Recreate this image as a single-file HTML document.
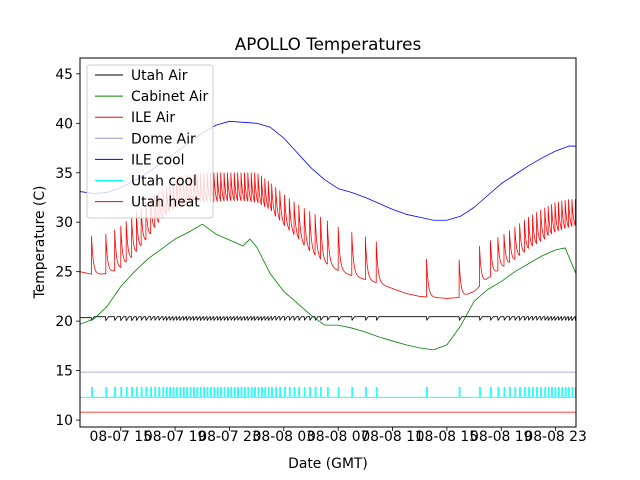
<!DOCTYPE html>
<html><head><meta charset="utf-8"><style>
html,body{margin:0;padding:0;background:#fff;}
svg{display:block;font-family:"DejaVu Sans","Liberation Sans",sans-serif;}
</style></head><body>
<svg id="chart" width="640" height="480" viewBox="0 0 640 480">
<rect width="640" height="480" fill="#fff"/>
<text x="328" y="50" font-size="16.8" text-anchor="middle" fill="#000">APOLLO Temperatures</text>
<g id="plot"></g>
<rect x="80" y="58" width="496" height="369" fill="none" stroke="#000" stroke-width="1"/>
<g id="xt"></g>
<g id="yt"></g>
<text x="328" y="468" font-size="13.9" text-anchor="middle">Date (GMT)</text>
<text x="0" y="0" font-size="13.9" text-anchor="middle" transform="translate(44,242) rotate(-90)">Temperature (C)</text>
<g id="legend"></g>
</svg>
<script>
const xTickHours=[3,7,11,15,19,23,27,31,35];
const xTickLabels=["08-07 15","08-07 19","08-07 23","08-08 03","08-08 07","08-08 11","08-08 15","08-08 19","08-08 23"];
const yTicks=[10,15,20,25,30,35,40,45];
const hourT=[0,1,2,3,4,5,6,7,8,9,10,11,12,13,14,15,16,17,18,19,20,21,22,23,24,25,26,27,28,29,30,31,32,33,34,35,36,36.5];
const ileCool=[33.1,32.9,33.0,33.5,34.2,35.0,36.0,37.0,38.0,39.0,39.8,40.2,40.1,40.0,39.6,38.5,37.0,35.5,34.3,33.4,33.0,32.5,31.9,31.3,30.8,30.5,30.2,30.2,30.6,31.5,32.7,33.9,34.8,35.7,36.5,37.2,37.7,37.7];
const cabT=[0,1,2,3,4,5,6,7,8,9,10,11,12,12.5,13,14,15,16,17,18,19,20,21,22,23,24,25,26,27,28,29,30,31,32,33,34,35,35.7,36.5];
const cabinetAir=[19.7,20.2,21.5,23.5,25,26.3,27.3,28.3,29,29.8,28.8,28.2,27.6,28.3,27.5,24.8,23.0,21.8,20.6,19.6,19.6,19.3,18.9,18.4,18.0,17.6,17.3,17.1,17.6,19.5,22.0,23.2,24.0,25.0,25.8,26.6,27.2,27.4,24.8];
const ileBase=[25.0,24.7,24.8,25.3,26.5,28.2,30,31,31.5,31.6,31.6,31.7,31.7,31.5,30.8,29.5,28.2,26.8,25.8,25.1,24.6,24.2,23.8,23.3,22.8,22.5,22.4,22.3,22.4,23.0,24.3,25.3,26.1,27.0,27.8,28.5,29.0,29.2];
const ilePeak=[28.6,28.6,28.8,29.6,30.8,32.2,33.3,34.2,34.8,35,35,35,35,35,34,32.8,31.8,31.0,30.3,29.5,29.0,28.5,27.9,27.5,27.0,26.3,26.2,26.2,26.2,27.3,28.0,28.6,29.5,30.5,31.3,32.0,32.3,32.3];
const cycleEvents=[0.85,1.9,2.55,3.0,3.4,3.8,4.15,4.5,4.85,5.2,5.5,5.8,6.1,6.35,6.6,6.85,7.1,7.35,7.6,7.85,8.1,8.35,8.6,8.85,9.1,9.35,9.6,9.85,10.1,10.35,10.6,10.85,11.1,11.35,11.6,11.85,12.1,12.35,12.6,12.85,13.1,13.35,13.6,13.85,14.1,14.4,14.7,15.05,15.4,15.75,16.1,16.5,16.9,17.3,17.7,18.2,19.0,20.0,21.0,21.8,25.5,27.9,29.4,30.2,30.75,31.2,31.6,32.0,32.35,32.7,33.0,33.3,33.6,33.9,34.2,34.45,34.7,34.95,35.2,35.45,35.7,35.95,36.2,36.45];
const utahAirLevel=[20.45];
const utahAirDip=[0.4];
const domeAir=[14.85];
const utahCoolLevels=[12.3,13.3];
const utahHeat=[10.8];

const X0=80,X1=576,Y0=58,Y1=427,XMIN=0,XMAX=36.5,YMIN=9.3,YMAX=46.6;
function xs(h){return X0+(h-XMIN)/(XMAX-XMIN)*(X1-X0);}
function ys(v){return Y1-(v-YMIN)/(YMAX-YMIN)*(Y1-Y0);}
function interp(T,V,t){if(t<=T[0])return V[0];for(let i=1;i<T.length;i++){if(t<=T[i]){const f=(t-T[i-1])/(T[i]-T[i-1]);return V[i-1]+f*(V[i]-V[i-1]);}}return V[V.length-1];}
const NS='http://www.w3.org/2000/svg';
const plot=document.getElementById('plot');
function mk(tag,attrs,parent){const e=document.createElementNS(NS,tag);for(const k in attrs)e.setAttribute(k,attrs[k]);parent.appendChild(e);return e;}
function pathFrom(pts){return pts.map((p,i)=>(i?'L':'M')+p[0].toFixed(2)+' '+p[1].toFixed(2)).join('');}
function addLine(pts,color,name,w){const p=mk('path',{d:pathFrom(pts),fill:'none',stroke:color,'stroke-width':w||0.8,'stroke-linejoin':'round'},plot);


return p;}
const defs=mk('defs',{},plot);const cp=mk('clipPath',{id:'clip'},defs);mk('rect',{x:X0,y:Y0,width:X1-X0,height:Y1-Y0},cp);
plot.setAttribute('clip-path','url(#clip)');

addLine([[xs(XMIN),ys(utahHeat[0])],[xs(XMAX),ys(utahHeat[0])]],'#ff0000','utah-heat-line');
addLine([[xs(XMIN),ys(domeAir[0])],[xs(XMAX),ys(domeAir[0])]],'#9b9bd0','dome-air-line');
(function(){const pts=[[xs(XMIN),ys(utahCoolLevels[0])]];const w=0.07;
cycleEvents.forEach(t=>{pts.push([xs(t),ys(utahCoolLevels[0])],[xs(t),ys(utahCoolLevels[1])],[xs(t+w),ys(utahCoolLevels[1])],[xs(t+w),ys(utahCoolLevels[0])]);});
pts.push([xs(XMAX),ys(utahCoolLevels[0])]);addLine(pts,'#00ffff','utah-cool-line');})();
(function(){const pts=[];let k=-1;for(let t=XMIN;t<=XMAX+1e-9;t+=0.02){while(k+1<cycleEvents.length&&cycleEvents[k+1]<=t)k++;
let v=utahAirLevel[0]-0.1;if(k>=0){v=utahAirLevel[0]-utahAirDip[0]*(1-Math.min(1,(t-cycleEvents[k])/0.2));}pts.push([xs(t),ys(v)]);}
addLine(pts,'#000000','utah-air-line');})();
addLine(cabT.map((t,i)=>[xs(t),ys(cabinetAir[i])]),'#008000','cabinet-air-line');
addLine(hourT.map((t,i)=>[xs(t),ys(ileCool[i])]),'#0000ff','ile-cool-line');
(function(){const pts=[];let k=-1;const tau=0.13;let prev=null;
for(let t=XMIN;t<=XMAX+1e-9;t+=0.01){
 while(k+1<cycleEvents.length&&cycleEvents[k+1]<=t){k++;const t0=cycleEvents[k];
   if(prev!==null)pts.push([xs(t0),ys(prev)]);pts.push([xs(t0),ys(interp(hourT,ilePeak,t0))]);}
 const b=interp(hourT,ileBase,t);let v=b;
 if(k>=0){const t0=cycleEvents[k];const amp=interp(hourT,ilePeak,t0)-interp(hourT,ileBase,t0);v=b+amp*Math.exp(-(t-t0)/tau);}
 pts.push([xs(t),ys(v)]);prev=v;}
addLine(pts,'#ff0000','ile-air-line');})();

const xt=document.getElementById('xt');
xTickHours.forEach((h,i)=>{const x=xs(h);
const l=mk('line',{x1:x,y1:Y1,x2:x,y2:Y1+4,stroke:'#000','stroke-width':0.8},xt);


const tx=mk('text',{x:x,y:441,'font-size':13.9,'text-anchor':'middle'},xt);tx.textContent=xTickLabels[i];

});
const yt=document.getElementById('yt');
yTicks.forEach(v=>{const y=ys(v);
const l=mk('line',{x1:X0-4,y1:y,x2:X0,y2:y,stroke:'#000','stroke-width':0.8},yt);


const tx=mk('text',{x:73,y:y+5,'font-size':13.9,'text-anchor':'end'},yt);tx.textContent=String(v);

});

const legNames=["Utah Air","Cabinet Air","ILE Air","Dome Air","ILE cool","Utah cool","Utah heat"];
const legColors=["#000000","#008000","#ff0000","#9b9bd0","#0000ff","#00ffff","#ff0000"];
const lg=document.getElementById('legend');
mk('rect',{x:87,y:65,width:126,height:153,rx:3,fill:'#fff','fill-opacity':0.8,stroke:'#cccccc','stroke-width':1},lg);
legNames.forEach((n,i)=>{const y=75+i*21.1;
const l=mk('line',{x1:95,y1:y,x2:123,y2:y,stroke:legColors[i],'stroke-width':1},lg);


const tx=mk('text',{x:131,y:y+5,'font-size':13.9},lg);tx.textContent=n;

});
</script>
</body></html>
